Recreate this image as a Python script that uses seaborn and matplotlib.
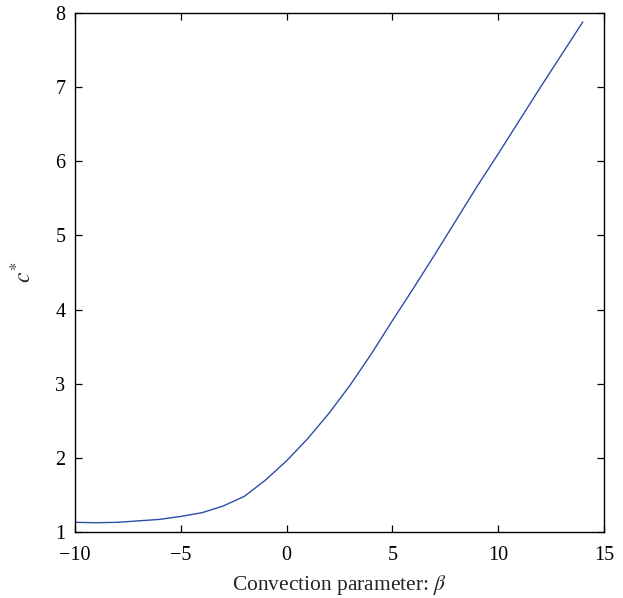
import matplotlib
matplotlib.use("Agg")
import matplotlib.pyplot as plt
import seaborn as sns
import pandas as pd

# Convection parameter beta and the corresponding critical value c*
beta = [-10, -9, -8, -7, -6, -5, -4, -3, -2, -1, 0, 1, 2, 3, 4, 5, 6, 7, 8, 9, 10, 11, 12, 13, 14]
c_star = [1.13, 1.125, 1.13, 1.15, 1.17, 1.21, 1.26, 1.35, 1.48, 1.70, 1.96, 2.26, 2.60,
          2.98, 3.40, 3.85, 4.29, 4.74, 5.20, 5.66, 6.10, 6.55, 7.00, 7.44, 7.88]

x_ticks = [-10, -5, 0, 5, 10, 15]
y_ticks = [1, 2, 3, 4, 5, 6, 7, 8]

sns.set_theme(style="white")
plt.rcParams["font.family"] = ["Liberation Serif", "DejaVu Serif"]
plt.rcParams["mathtext.fontset"] = "stix"

df = pd.DataFrame({"beta": beta, "c": c_star})

fig = plt.figure(figsize=(6.23, 5.98), dpi=100)
ax = fig.add_axes([0.1204, 0.1104, 0.8491, 0.8679])

sns.lineplot(data=df, x="beta", y="c", ax=ax, color="#2c4ea6", linewidth=1.0)

ax.set_xlim(-10, 15)
ax.set_ylim(1, 8)
ax.set_xticks(x_ticks)
ax.set_yticks(y_ticks)
ax.set_xticklabels(["\u221210", "\u22125", "0", "5", "10", "15"])
ax.tick_params(direction="in", length=5, width=0.9, top=True, right=True,
               bottom=True, left=True, labelsize=14.5, colors="black")
ax.tick_params(axis="x", pad=10)
ax.tick_params(axis="y", pad=7)

for s in ax.spines.values():
    s.set_visible(True)
    s.set_color("black")
    s.set_linewidth(1.0)

ax.set_xlabel(r"Convection parameter: $\beta$", fontsize=15.5, labelpad=6)
ax.set_ylabel(r"$c^{*}$", fontsize=17, labelpad=14)

fig.savefig("out.png", dpi=100, facecolor="white")
